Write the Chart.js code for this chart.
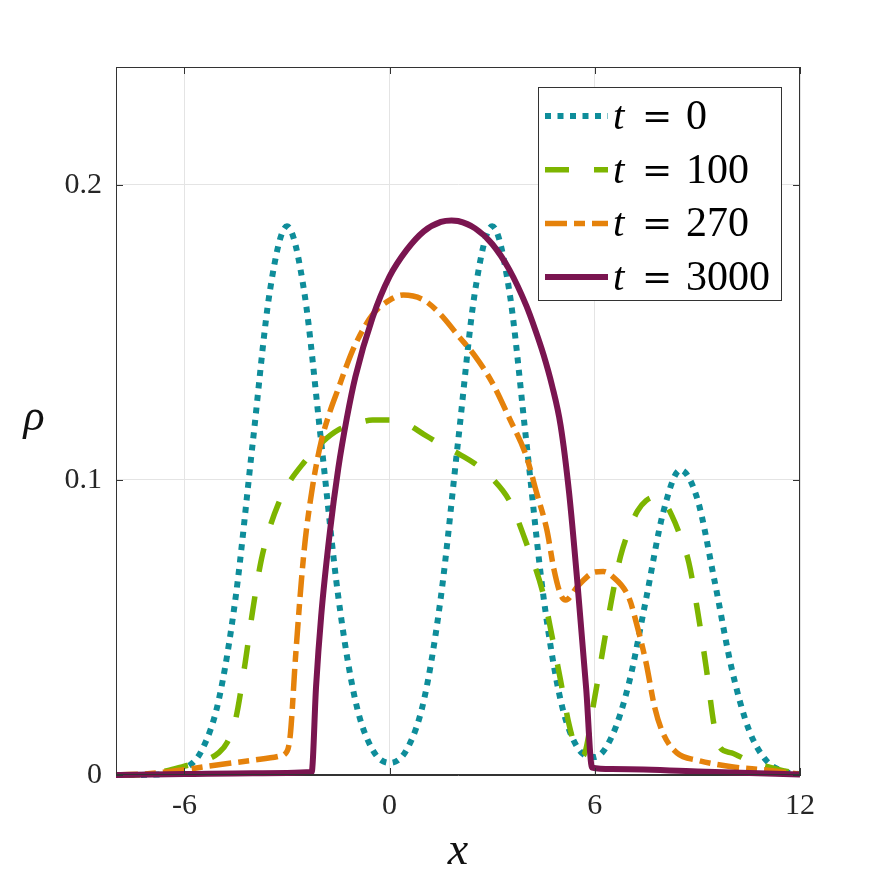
<!DOCTYPE html>
<html>
<head>
<meta charset="utf-8">
<script src="https://cdn.jsdelivr.net/npm/chart.js@4.4.1/dist/chart.umd.min.js"></script>
<style>
  html, body { margin: 0; padding: 0; background: #fff; }
  canvas { display: block; }
</style>
</head>
<body>
<canvas id="rhoChart" width="886" height="886"></canvas>
<script>
// tick values
var xTicks = [-6, 0, 6, 12];
var yTicks = [0, 0.1, 0.2];

// t = 0
var t0X = [-8, -7.5, -7, -6.5, -6, -5.5, -5, -4.5, -4, -3.5, -3, -2.5, -2, -1.5, -1, -0.5, 0, 0.5, 1, 1.5, 2,
           2.5, 3, 3.5, 4, 4.5, 5, 5.5, 6, 6.5, 7, 7.5, 8, 8.5, 9, 9.5, 10, 10.5, 11, 11.5, 12];
var t0Y = [0, 0, 0.0001, 0.0004, 0.0021, 0.0082, 0.0252, 0.0604, 0.1128, 0.1641, 0.186, 0.1641, 0.1128, 0.0604,
           0.0252, 0.0086, 0.0041, 0.0086, 0.0252, 0.0604, 0.1128, 0.1641, 0.186, 0.1641, 0.1128, 0.0604, 0.0254,
           0.0092, 0.0061, 0.0131, 0.0312, 0.0597, 0.089, 0.1034, 0.0935, 0.0659, 0.0362, 0.0155, 0.0051, 0.0013, 0.0003];

// t = 100
var t100X = [-8, -7, -6.5, -6, -5.5, -5, -4.75, -4.5, -4.25, -4, -3.75, -3.5, -3.25, -3, -2.5, -2, -1.5, -1, -0.5, 0,
             0.5, 1, 1.5, 2, 2.5, 3, 3.5, 4, 4.5, 4.75, 5, 5.25, 5.5, 5.65, 6, 6.25, 6.5, 6.75, 7, 7.25, 7.5, 7.75,
             8, 8.25, 8.5, 8.75, 9, 9.25, 9.5, 9.65, 10, 10.5, 11, 11.5, 12];
var t100Y = [0, 0.0003, 0.0015, 0.003, 0.0045, 0.0075, 0.011, 0.019, 0.036, 0.056, 0.073, 0.084, 0.092, 0.098, 0.106,
             0.1125, 0.117, 0.119, 0.1203, 0.1203, 0.119, 0.1155, 0.112, 0.109, 0.1055, 0.1005, 0.093, 0.0786, 0.061,
             0.047, 0.032, 0.017, 0.0075, 0.0065, 0.0264, 0.0434, 0.06, 0.074, 0.083, 0.0895, 0.093, 0.0942, 0.093,
             0.088, 0.081, 0.072, 0.056, 0.037, 0.016, 0.0095, 0.0075, 0.0048, 0.003, 0.0015, 0.0003];

// t = 270
var t270X = [-8, -7, -6, -5, -4, -3.25, -3, -2.9, -2.75, -2.5, -2.25, -2, -1.75, -1.5, -1.25, -1, -0.5, 0, 0.4, 1,
             1.5, 2, 2.5, 3, 3.5, 4, 4.3, 4.6, 4.8, 5, 5.15, 5.5, 6, 6.25, 6.5, 7, 7.25, 7.5, 7.75, 8, 8.4, 9, 10, 11, 12];
var t270Y = [0, 0.0005, 0.0018, 0.0035, 0.005, 0.0063, 0.008, 0.014, 0.04, 0.076, 0.098, 0.113, 0.123, 0.131, 0.139,
             0.146, 0.156, 0.161, 0.1627, 0.161, 0.156, 0.149, 0.142, 0.133, 0.121, 0.108, 0.0956, 0.083, 0.07, 0.0612,
             0.0593, 0.064, 0.0688, 0.069, 0.0675, 0.06, 0.05, 0.038, 0.023, 0.014, 0.0075, 0.005, 0.0028, 0.0017, 0.0003];

// t = 3000
var t3000X = [-8, -6, -4, -2.28, -2.15, -2, -1.75, -1.5, -1.25, -1, -0.5, 0, 0.5, 1, 1.5, 1.81, 2, 2.5, 3, 3.5, 4,
              4.25, 4.5, 4.75, 5, 5.25, 5.5, 5.75, 5.92, 6.5, 9, 12];
var t3000Y = [0, 0.0003, 0.0006, 0.001, 0.03, 0.054, 0.082, 0.104, 0.121, 0.135, 0.155, 0.169, 0.178, 0.1843, 0.1875,
              0.188, 0.1878, 0.1853, 0.18, 0.1713, 0.159, 0.1512, 0.1425, 0.132, 0.1185, 0.0955, 0.064, 0.029, 0.0025,
              0.002, 0.0012, 0.0002];

var labels = ['0', '100', '270', '3000'];
var colors = ['#0E8D9A', '#7DB500', '#E5820B', '#7A1550'];
var serif = "'Liberation Serif', 'Times New Roman', serif";

function pts(xs, ys) {
    return xs.map(function(x, i) { return { x: x, y: ys[i] }; });
}

// box, inward ticks, rho label and legend (MATLAB look)
var matlabAxes = {
    id: 'matlabAxes',
    afterDatasetsDraw: function(chart) {
        var ctx = chart.ctx;
        var a = chart.chartArea;
        var sx = chart.scales.x, sy = chart.scales.y;
        ctx.save();
        ctx.strokeStyle = '#333';
        ctx.lineWidth = 1;
        ctx.setLineDash([]);
        ctx.strokeRect(a.left + 0.5, a.top + 0.5, a.right - a.left - 1, a.bottom - a.top - 1);
        ctx.beginPath();
        xTicks.forEach(function(v) {
            var px = Math.round(sx.getPixelForValue(v)) + 0.5;
            ctx.moveTo(px, a.bottom); ctx.lineTo(px, a.bottom - 7);
            ctx.moveTo(px, a.top); ctx.lineTo(px, a.top + 7);
        });
        yTicks.forEach(function(v) {
            var py = Math.round(sy.getPixelForValue(v)) + 0.5;
            ctx.moveTo(a.left, py); ctx.lineTo(a.left + 7, py);
            ctx.moveTo(a.right, py); ctx.lineTo(a.right - 7, py);
        });
        ctx.stroke();

        // y label, upright
        ctx.fillStyle = '#111';
        ctx.font = 'italic 44px ' + serif;
        ctx.textAlign = 'center';
        ctx.textBaseline = 'alphabetic';
        ctx.fillText('\u03C1', 34, 430);

        // legend
        var lx = 538, ly = 87, lw = 243, lh = 213;
        ctx.fillStyle = '#fff';
        ctx.fillRect(lx, ly, lw, lh);
        ctx.strokeStyle = '#333';
        ctx.strokeRect(lx + 0.5, ly + 0.5, lw, lh);
        chart.data.datasets.forEach(function(ds, i) {
            var ry = 116 + i * 53.7;
            ctx.strokeStyle = ds.borderColor;
            ctx.lineWidth = ds.borderWidth;
            ctx.lineCap = 'butt';
            ctx.setLineDash(ds.borderDash || []);
            ctx.beginPath();
            ctx.moveTo(545, ry);
            ctx.lineTo(608, ry);
            ctx.stroke();
            ctx.setLineDash([]);
            ctx.fillStyle = '#000';
            ctx.textBaseline = 'alphabetic';
            ctx.textAlign = 'left';
            ctx.font = 'italic 41px ' + serif;
            ctx.fillText('t', 613, ry + 13);
            ctx.font = "36px 'DejaVu Serif', serif";
            ctx.textAlign = 'center';
            ctx.fillText('=', 657, ry + 12);
            ctx.textAlign = 'left';
            ctx.font = '42px ' + serif;
            ctx.fillText(labels[i], 686, ry + 13);
        });
        ctx.restore();
    }
};

var ctx = document.getElementById('rhoChart').getContext('2d');
var rhoChart = new Chart(ctx, {
    type: 'line',
    data: {
        datasets: [
            { label: 't = 0', data: pts(t0X, t0Y), borderColor: colors[0], borderWidth: 6, borderDash: [6, 6.5], order: 4 },
            { label: 't = 100', data: pts(t100X, t100Y), borderColor: colors[1], borderWidth: 5.5, borderDash: [24, 25], order: 3 },
            { label: 't = 270', data: pts(t270X, t270Y), borderColor: colors[2], borderWidth: 5.5, borderDash: [22, 7, 11, 7], order: 2 },
            { label: 't = 3000', data: pts(t3000X, t3000Y), borderColor: colors[3], borderWidth: 6, order: 1 }
        ]
    },
    options: {
        responsive: false,
        animation: false,
        clip: false,
        layout: { padding: { top: 67, right: 86, left: 0, bottom: 0 } },
        elements: {
            point: { radius: 0 },
            line: { cubicInterpolationMode: 'monotone', borderCapStyle: 'butt', fill: false }
        },
        plugins: {
            legend: { display: false },
            tooltip: { enabled: false }
        },
        scales: {
            x: {
                type: 'linear',
                min: -8,
                max: 12,
                afterBuildTicks: function(s) { s.ticks = xTicks.map(function(v) { return { value: v }; }); },
                afterFit: function(s) { s.height = 111; },
                ticks: { font: { family: serif, size: 30 }, color: '#262626', padding: 13, maxRotation: 0 },
                grid: { color: '#e4e4e4', drawTicks: false },
                border: { color: '#333' },
                title: { display: true, text: 'x', color: '#111', font: { family: serif, size: 46, style: 'italic' }, padding: { top: 6, bottom: 6 } }
            },
            y: {
                type: 'linear',
                min: 0,
                max: 0.24,
                afterBuildTicks: function(s) { s.ticks = yTicks.map(function(v) { return { value: v }; }); },
                afterFit: function(s) { s.width = 116; },
                ticks: { font: { family: serif, size: 30 }, color: '#262626', padding: 14,
                         callback: function(v) { return String(v); } },
                grid: { color: '#e4e4e4', drawTicks: false },
                border: { color: '#333' }
            }
        }
    },
    plugins: [matlabAxes]
});
</script>
</body>
</html>
